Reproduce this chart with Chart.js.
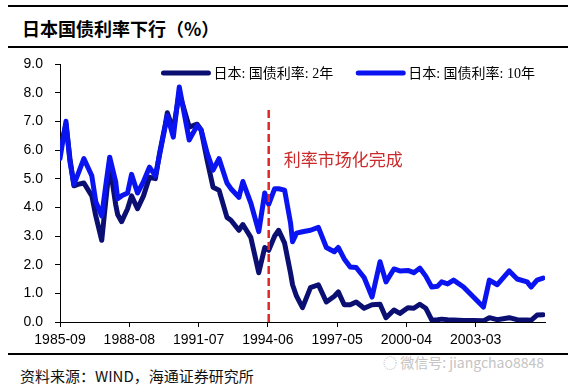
<!DOCTYPE html>
<html>
<head>
<meta charset="utf-8">
<script src="https://cdn.jsdelivr.net/npm/chart.js@4.4.0/dist/chart.umd.min.js"></script>
<style>
  body { margin: 0; background: #fff; width: 577px; height: 388px; overflow: hidden; position: relative; }
  .rule { position: absolute; left: 8px; width: 560px; background: #000; }
  #title { position: absolute; left: 22px; top: 16px; font: bold 18px "Noto Sans CJK SC", sans-serif; color: #000; line-height: 24px; }
  #source { position: absolute; left: 20px; top: 366px; font: 15px "Noto Sans CJK SC", sans-serif; color: #111; line-height: 20px; }
  #mark { position: absolute; left: 383px; top: 353px; font: 14px "Noto Sans CJK SC", sans-serif; color: #c4c4c4; line-height: 18px; }
  #wrap { position: absolute; left: 0; top: 0; width: 577px; height: 388px; }
</style>
</head>
<body>
<div class="rule" style="top:5px;height:2px"></div>
<div id="title">日本国债利率下行（%）</div>
<div class="rule" style="top:46px;height:2px"></div>
<div class="rule" style="top:353px;height:2px"></div>
<div id="mark">◌ 微信号: jiangchao8848</div>
<div id="source">资料来源：WIND，海通证券研究所</div>
<div id="wrap"><canvas id="myChart"></canvas></div>
<script>
// months (YYYY-MM) and yields (%)
const dates = [
  '1985-09','1985-12','1986-02','1986-04','1986-06','1986-09','1987-01','1987-03','1987-06','1987-08',
  '1987-10','1988-01','1988-02','1988-04','1988-07','1988-09','1988-12','1989-03','1989-06','1989-09',
  '1989-11','1990-02','1990-03','1990-06','1990-09','1991-02','1991-06','1991-08','1991-11','1992-02',
  '1992-05','1992-09','1992-11','1993-03','1993-05','1993-09','1994-01','1994-04','1994-06','1994-09',
  '1994-11','1995-02','1995-05','1995-06','1995-08','1995-11','1996-03','1996-07','1996-11','1997-03',
  '1997-05','1997-08','1997-11','1998-02','1998-06','1998-10','1999-02','1999-05','1999-09','1999-12',
  '2000-04','2000-07','2000-10','2001-01','2001-04','2001-07','2001-09','2001-12','2002-03','2002-08',
  '2003-01','2003-06','2003-09','2004-01','2004-07','2004-11','2005-04','2005-06','2005-09','2005-12'
];
const yield2y = [
  6.0, 6.9, 5.7, 4.75, 4.8, 4.85, 4.4, 3.7, 2.85, 4.2,
  5.5, 4.1, 3.75, 3.5, 3.95, 4.4, 3.95, 4.4, 5.05, 5.0,
  5.85, 6.9, 7.3, 6.7, 8.0, 6.8, 6.9, 6.7, 5.65, 4.7,
  4.6, 3.65, 3.55, 3.2, 3.4, 2.95, 1.72, 2.6, 2.5, 3.0,
  3.2, 2.75, 1.7, 1.3, 0.9, 0.5, 1.2, 1.3, 0.7, 0.9,
  1.05, 0.6, 0.6, 0.7, 0.48, 0.6, 0.62, 0.15, 0.42, 0.3,
  0.5, 0.48, 0.62, 0.48, 0.07, 0.08, 0.1, 0.08, 0.07, 0.05,
  0.05, 0.04, 0.15, 0.08, 0.15, 0.08, 0.07, 0.06, 0.24, 0.25
];
const yield10y = [
  5.7, 7.0, 5.6, 4.8, 5.15, 5.7, 5.1, 4.2, 3.7, 4.75,
  5.75, 4.9, 4.3, 4.4, 4.5, 5.15, 4.5, 4.9, 5.4, 5.1,
  5.8, 6.85, 7.2, 6.45, 8.2, 6.35, 6.85, 6.7, 5.9, 5.3,
  5.7, 4.85, 4.65, 4.35, 4.9, 4.15, 3.15, 4.5, 4.1, 4.65,
  4.65, 4.6, 3.45, 2.8, 3.1, 3.15, 3.2, 3.3, 2.6, 2.45,
  2.6, 2.2, 1.92, 1.9, 1.55, 0.87, 2.1, 1.4, 1.85, 1.78,
  1.8, 1.72, 1.88, 1.6, 1.22, 1.25, 1.4, 1.33, 1.46, 1.22,
  0.87, 0.52, 1.46, 1.3, 1.78, 1.5, 1.4, 1.22, 1.46, 1.53
];
const tickLabels = ['1985-09', '1988-08', '1991-07', '1994-06', '1997-05', '2000-04', '2003-03'];
const seriesNames = ['日本: 国债利率: 2年', '日本: 国债利率: 10年'];
const markerDate = '1994-06';
const markerTop = 7.4;
const markerText = '利率市场化完成';

const startDate = dates[0];
function monthIndex(d) {
  const [y0, m0] = startDate.split('-').map(Number);
  const [y, m] = d.split('-').map(Number);
  return (y - y0) * 12 + (m - m0);
}

const points2y = dates.map((d, i) => ({ x: monthIndex(d), y: yield2y[i] }));
const points10y = dates.map((d, i) => ({ x: monthIndex(d), y: yield10y[i] }));
const mx = monthIndex(markerDate);

const colors = ['#0b0f72', '#0a14f0'];

const legendPlugin = {
  id: 'topLegend',
  afterDraw(chart) {
    const ctx = chart.ctx;
    const area = chart.chartArea;
    ctx.save();
    ctx.font = '14px "Liberation Serif", "Noto Sans CJK SC", serif';
    ctx.textBaseline = 'middle';
    const lineW = 45, gap = 5, between = 25;
    const w = seriesNames.map(t => ctx.measureText(t).width);
    const total = w[0] + w[1] + 2 * (lineW + gap) + between;
    let x = area.right - 10 - total;
    const y = area.top + 9;
    seriesNames.forEach((name, i) => {
      ctx.strokeStyle = colors[i];
      ctx.lineWidth = 5;
      ctx.lineCap = 'round';
      ctx.beginPath();
      ctx.moveTo(x, y);
      ctx.lineTo(x + lineW, y);
      ctx.stroke();
      ctx.fillStyle = '#000';
      ctx.fillText(name, x + lineW + gap, y + 1);
      x += lineW + gap + w[i] + between;
    });
    // annotation text
    const xs = chart.scales.x, ys = chart.scales.y;
    ctx.font = '17px "Noto Sans CJK SC", sans-serif';
    ctx.fillStyle = '#cc2a2a';
    ctx.textAlign = 'left';
    ctx.fillText(markerText, xs.getPixelForValue(mx) + 15, ys.getPixelForValue(5.65));
    ctx.restore();
  }
};

const ctx = document.getElementById('myChart').getContext('2d');
new Chart(ctx, {
  type: 'line',
  data: {
    datasets: [
      {
        label: 'marker',
        data: [{ x: mx, y: 0 }, { x: mx, y: markerTop }],
        borderColor: '#e02828',
        borderWidth: 2.5,
        borderDash: [8, 4],
        pointRadius: 0,
        order: 0
      },
      {
        label: seriesNames[1],
        data: points10y,
        borderColor: colors[1],
        borderWidth: 5,
        borderJoinStyle: 'round',
        borderCapStyle: 'round',
        pointRadius: 0,
        tension: 0,
        order: 1
      },
      {
        label: seriesNames[0],
        data: points2y,
        borderColor: colors[0],
        borderWidth: 5,
        borderJoinStyle: 'round',
        borderCapStyle: 'round',
        pointRadius: 0,
        tension: 0,
        order: 2
      }
    ]
  },
  options: {
    responsive: true,
    maintainAspectRatio: false,
    animation: false,
    layout: { padding: { top: 64, right: 32, bottom: 36, left: 0 } },
    plugins: {
      legend: { display: false },
      tooltip: { enabled: false }
    },
    scales: {
      x: {
        type: 'linear',
        min: 0,
        max: 244,
        afterFit: s => { s.height = 30; },
        border: { color: '#000', width: 1 },
        grid: { display: true, drawOnChartArea: false, tickLength: 5, color: '#000' },
        ticks: {
          stepSize: 35,
          includeBounds: false,
          autoSkip: false,
          maxRotation: 0,
          padding: 5,
          color: '#000',
          font: { family: 'Liberation Sans, Arial, sans-serif', size: 14 },
          callback: v => tickLabels[Math.round(v / 35)]
        }
      },
      y: {
        min: 0,
        max: 9,
        afterFit: s => { s.width = 60; },
        border: { color: '#000', width: 1 },
        grid: { display: true, drawOnChartArea: false, tickLength: 5, color: '#000' },
        ticks: {
          stepSize: 1,
          padding: 12,
          color: '#000',
          font: { family: 'Liberation Sans, Arial, sans-serif', size: 14 },
          callback: v => v.toFixed(1)
        }
      }
    }
  },
  plugins: [legendPlugin]
});
</script>
</body>
</html>
